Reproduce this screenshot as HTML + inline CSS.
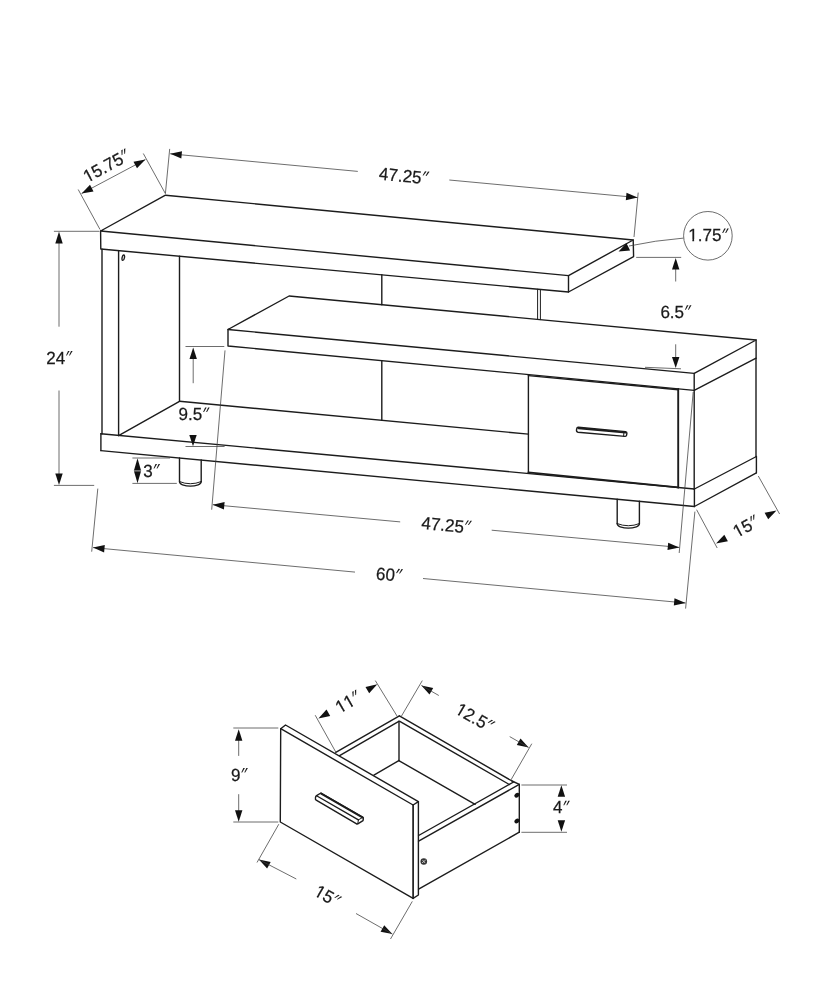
<!DOCTYPE html>
<html><head><meta charset="utf-8"><title>TV stand dimensions</title>
<style>
html,body{margin:0;padding:0;background:#fff}
svg{display:block}
.m{stroke:#1c1c1c;stroke-width:1.4;fill:none;stroke-linecap:round;stroke-linejoin:round}
.m2{stroke:#1c1c1c;stroke-width:1.0;fill:none;stroke-linecap:round;stroke-linejoin:round}
.k{stroke:#1c1c1c;stroke-width:1.9;fill:none;stroke-linecap:round}
.k2{stroke:#1c1c1c;stroke-width:1.7;fill:none;stroke-linecap:round}
.t{stroke:#3c3c3c;stroke-width:0.75;fill:none}
.t2{stroke:#1c1c1c;stroke-width:0.7;fill:none}
.a{fill:#111;stroke:none}
.w{fill:#fff;stroke:none}
.s{fill:#111;stroke:none}
.q{fill:#1a1a1a;stroke:none}
svg{will-change:transform}
text{font-kerning:none;stroke:#1a1a1a;stroke-width:0.25;text-rendering:geometricPrecision;font-family:"Liberation Sans",sans-serif;font-size:17.6px;fill:#1a1a1a}
</style></head>
<body>
<svg width="824" height="1000" viewBox="0 0 824 1000">
<defs><clipPath id="c15_75"><path clip-rule="evenodd" d="M-4 -22 H50.0 V8 H-4 Z M0.52 -2.2 H4.29 V1.5 H0.52 Z M6.12 -2.2 H9.79 V1.5 H6.12 Z"/></clipPath><clipPath id="c1_75"><path clip-rule="evenodd" d="M-4 -22 H40.3 V8 H-4 Z M0.52 -2.2 H4.29 V1.5 H0.52 Z M6.12 -2.2 H9.79 V1.5 H6.12 Z"/></clipPath><clipPath id="c15"><path clip-rule="evenodd" d="M-4 -22 H25.6 V8 H-4 Z M0.52 -2.2 H4.29 V1.5 H0.52 Z M6.12 -2.2 H9.79 V1.5 H6.12 Z"/></clipPath><clipPath id="c11"><path clip-rule="evenodd" d="M-4 -22 H25.6 V8 H-4 Z M0.52 -2.2 H4.29 V1.5 H0.52 Z M6.12 -2.2 H9.79 V1.5 H6.12 Z M10.30 -2.2 H14.07 V1.5 H10.30 Z M15.91 -2.2 H19.58 V1.5 H15.91 Z"/></clipPath><clipPath id="c12_5"><path clip-rule="evenodd" d="M-4 -22 H40.3 V8 H-4 Z M0.52 -2.2 H4.29 V1.5 H0.52 Z M6.12 -2.2 H9.79 V1.5 H6.12 Z"/></clipPath></defs>
<rect width="824" height="1000" fill="#fff"/>
<path class="m" d="M100.6 231.0 L165.5 195.2 L633.2 240.0 L568.5 275.6 Z"/>
<path class="m" d="M100.6 231.0 L100.8 249.0 L568.5 292.0 L633.6 256.6 L633.2 240.0"/>
<line class="m" x1="568.5" y1="275.6" x2="568.5" y2="292.0"/>
<line class="m" x1="102.0" y1="249.0" x2="102.0" y2="434.0"/>
<line class="m" x1="118.6" y1="250.6" x2="118.6" y2="435.6"/>
<line class="m" x1="179.5" y1="256.2" x2="179.5" y2="401.3"/>
<ellipse class="m" cx="123.3" cy="257.7" rx="1.15" ry="2.7" transform="rotate(12 123.3 257.6)"/>
<line class="m" x1="100.9" y1="433.7" x2="694.4" y2="489.0"/>
<line class="m" x1="100.9" y1="450.6" x2="694.4" y2="506.5"/>
<line class="m" x1="100.9" y1="433.7" x2="100.9" y2="450.6"/>
<line class="m" x1="694.4" y1="489.0" x2="694.4" y2="506.5"/>
<line class="m" x1="694.4" y1="489.0" x2="756.4" y2="456.5"/>
<line class="m" x1="694.4" y1="506.5" x2="756.4" y2="472.8"/>
<line class="m" x1="756.4" y1="456.5" x2="756.4" y2="472.8"/>
<line class="m" x1="118.6" y1="435.6" x2="179.5" y2="401.3"/>
<line class="m" x1="179.5" y1="401.3" x2="528.4" y2="434.1"/>
<path class="m" d="M228.0 329.5 L289.1 296.0 L756.1 340.0 L694.2 373.4 Z"/>
<path class="m" d="M228.0 329.5 L228.0 346.0 L694.2 390.4 L756.1 358.2 L756.1 340.0"/>
<line class="m" x1="694.2" y1="373.4" x2="694.2" y2="390.4"/>
<line class="m" x1="694.2" y1="390.4" x2="694.2" y2="489.3"/>
<line class="m" x1="756.0" y1="358.2" x2="756.0" y2="456.5"/>
<line class="m" x1="381.8" y1="274.8" x2="381.8" y2="304.7"/>
<line class="m2" x1="537.6" y1="289.2" x2="537.6" y2="319.4"/>
<line class="m2" x1="540.4" y1="289.4" x2="540.4" y2="319.7"/>
<line class="m" x1="381.8" y1="360.6" x2="381.8" y2="420.3"/>
<line class="m" x1="528.4" y1="374.6" x2="528.4" y2="472.6"/>
<line class="k" x1="678.2" y1="388.9" x2="678.2" y2="487.6"/>
<line class="m" x1="528.4" y1="375.6" x2="678.2" y2="389.8"/>
<line class="k" x1="528.4" y1="472.4" x2="678.2" y2="487.4"/>
<path class="m" fill="#fff" d="M578.4 427.3 L625.6 431.6 Q627.0 431.8 626.9 433.2 L626.6 435.2 Q626.4 436.5 625.0 436.4 L578.0 432.2 Q576.3 432.0 576.5 430.2 L576.7 428.8 Q576.9 427.2 578.4 427.3 Z"/>
<line class="k" x1="578.4" y1="428.2" x2="625.6" y2="432.6"/>
<line class="m2" x1="623.9" y1="432.6" x2="623.6" y2="436.2"/>
<line class="m" x1="179.5" y1="458.0" x2="179.5" y2="481.6"/>
<line class="m" x1="201.2" y1="460.0" x2="201.2" y2="481.6"/>
<path class="m2" d="M179.5 481.6 Q190.3 486.0 201.2 481.6"/>
<path class="m" d="M179.5 481.6 Q179.5 483.8 182.5 484.8 Q190.3 487.4 198.2 484.8 Q201.2 483.8 201.2 481.6"/>
<line class="m" x1="617.2" y1="499.2" x2="617.2" y2="523.6"/>
<line class="m" x1="639.4" y1="501.3" x2="639.4" y2="523.6"/>
<path class="m2" d="M617.2 523.6 Q628.3 528.0 639.4 523.6"/>
<path class="m" d="M617.2 523.6 Q617.2 525.8 620.2 526.8 Q628.3 529.4 636.4 526.8 Q639.4 525.8 639.4 523.6"/>
<line class="t" x1="78.2" y1="189.5" x2="100.0" y2="229.5"/>
<line class="t" x1="143.3" y1="153.5" x2="165.4" y2="193.6"/>
<line class="t" x1="81.6" y1="193.5" x2="145.4" y2="159.6"/>
<polygon class="a" points="81.6,193.5 90.0,184.8 93.5,191.4"/>
<polygon class="a" points="145.4,159.6 137.0,168.3 133.5,161.7"/>
<g transform="translate(106.3 165.6) rotate(-28)"><text clip-path="url(#c15_75)" transform="translate(-25.0 6.3) scale(0.968 1)">15.75</text><path class="q" d="M20.4 -6.4 L22.0 -6.4 L19.3 -1.9 L18.4 -1.9 Z"/><path class="q" d="M23.4 -6.4 L25.0 -6.4 L22.3 -1.9 L21.4 -1.9 Z"/></g>
<line class="t" x1="169.7" y1="148.9" x2="165.4" y2="193.6"/>
<line class="t" x1="638.2" y1="192.6" x2="634.0" y2="237.0"/>
<line class="t" x1="170.2" y1="153.8" x2="357.8" y2="171.4"/>
<polygon class="a" points="170.2,153.8 182.0,151.2 181.3,158.6"/>
<line class="t" x1="449.3" y1="180.0" x2="637.6" y2="197.6"/>
<polygon class="a" points="637.6,197.6 625.8,200.2 626.5,192.8"/>
<g transform="translate(378.6 179.6) rotate(5.4)"><text transform="translate(0.0 0.0) scale(0.968 1)">47.25</text><path class="q" d="M45.4 -12.7 L47.0 -12.7 L44.3 -8.2 L43.4 -8.2 Z"/><path class="q" d="M48.4 -12.7 L50.0 -12.7 L47.3 -8.2 L46.4 -8.2 Z"/></g>
<line class="t" x1="53.9" y1="231.3" x2="99.5" y2="231.3"/>
<line class="t" x1="53.9" y1="485.4" x2="94.2" y2="485.4"/>
<line class="t" x1="59.0" y1="236.0" x2="59.0" y2="326.7"/>
<polygon class="a" points="59.0,231.4 62.7,243.4 55.3,243.4"/>
<line class="t" x1="59.0" y1="390.5" x2="59.0" y2="480.0"/>
<polygon class="a" points="59.0,485.0 55.3,473.5 62.7,473.5"/>
<g transform="translate(46.2 363.8) rotate(0)"><text transform="translate(0.0 0.0) scale(0.968 1)">24</text><path class="q" d="M21.8 -12.7 L23.4 -12.7 L20.7 -8.2 L19.8 -8.2 Z"/><path class="q" d="M24.8 -12.7 L26.4 -12.7 L23.7 -8.2 L22.8 -8.2 Z"/></g>
<line class="t" x1="185.5" y1="346.5" x2="224.3" y2="346.5"/>
<line class="t" x1="185.5" y1="446.5" x2="224.6" y2="446.5"/>
<line class="t" x1="193.2" y1="352.0" x2="193.2" y2="383.2"/>
<polygon class="a" points="193.2,347.4 196.9,358.9 189.5,358.9"/>
<polygon class="a" points="193.0,446.3 189.3,435.1 196.7,435.1"/>
<g transform="translate(178.6 420.3) rotate(0)"><text transform="translate(0.0 0.0) scale(0.968 1)">9.5</text><path class="q" d="M26.5 -12.7 L28.1 -12.7 L25.4 -8.2 L24.5 -8.2 Z"/><path class="q" d="M29.5 -12.7 L31.1 -12.7 L28.4 -8.2 L27.5 -8.2 Z"/></g>
<line class="t" x1="132.4" y1="458.0" x2="170.0" y2="458.0"/>
<line class="t" x1="132.4" y1="483.4" x2="176.8" y2="483.4"/>
<polygon class="a" points="137.5,458.3 141.2,470.9 133.8,470.9"/>
<polygon class="a" points="137.5,483.2 133.8,470.6 141.2,470.6"/>
<line x1="133" y1="470.9" x2="142" y2="470.9" stroke="#fff" stroke-width="0.7"/>
<g transform="translate(143.2 476.6) rotate(0)"><text transform="translate(0.0 0.0) scale(0.968 1)">3</text><path class="q" d="M12.3 -12.7 L13.9 -12.7 L11.2 -8.2 L10.3 -8.2 Z"/><path class="q" d="M15.3 -12.7 L16.9 -12.7 L14.2 -8.2 L13.3 -8.2 Z"/></g>
<line class="t" x1="636.2" y1="257.4" x2="681.2" y2="257.4"/>
<line class="t" x1="675.7" y1="262.0" x2="675.7" y2="281.5"/>
<polygon class="a" points="675.7,257.9 679.4,269.4 672.0,269.4"/>
<line class="t" x1="675.7" y1="344.3" x2="675.7" y2="362.0"/>
<polygon class="a" points="675.7,367.9 672.0,357.1 679.4,357.1"/>
<line class="t" x1="645.0" y1="367.3" x2="681.0" y2="368.8"/>
<g transform="translate(660.4 317.9) rotate(0)"><text transform="translate(0.0 0.0) scale(0.968 1)">6.5</text><path class="q" d="M26.5 -12.7 L28.1 -12.7 L25.4 -8.2 L24.5 -8.2 Z"/><path class="q" d="M29.5 -12.7 L31.1 -12.7 L28.4 -8.2 L27.5 -8.2 Z"/></g>
<circle class="t" cx="707.9" cy="235.8" r="24.3"/>
<g transform="translate(688.2 241.2) rotate(0)"><text clip-path="url(#c1_75)" transform="translate(0.0 0.0) scale(0.968 1)">1.75</text><path class="q" d="M36.0 -12.7 L37.6 -12.7 L34.9 -8.2 L34.0 -8.2 Z"/><path class="q" d="M39.0 -12.7 L40.6 -12.7 L37.9 -8.2 L37.0 -8.2 Z"/></g>
<path class="t" d="M683.5 238.1 Q655 240.4 629.0 246.0"/>
<polygon class="a" points="618.6,251.5 626.4,242.9 630.1,250.4"/>
<line class="t" x1="225.0" y1="350.4" x2="211.7" y2="509.7"/>
<line class="t" x1="693.2" y1="392.0" x2="679.2" y2="553.0"/>
<line class="t" x1="212.8" y1="504.7" x2="400.2" y2="521.9"/>
<polygon class="a" points="212.8,504.7 224.6,502.1 223.9,509.4"/>
<line class="t" x1="491.7" y1="530.2" x2="679.3" y2="547.4"/>
<polygon class="a" points="679.3,547.4 667.5,550.0 668.2,542.7"/>
<g transform="translate(421.0 528.8) rotate(5.4)"><text transform="translate(0.0 0.0) scale(0.968 1)">47.25</text><path class="q" d="M45.4 -12.7 L47.0 -12.7 L44.3 -8.2 L43.4 -8.2 Z"/><path class="q" d="M48.4 -12.7 L50.0 -12.7 L47.3 -8.2 L46.4 -8.2 Z"/></g>
<line class="t" x1="97.8" y1="488.6" x2="91.7" y2="551.7"/>
<line class="t" x1="694.9" y1="511.6" x2="685.6" y2="608.6"/>
<line class="t" x1="93.0" y1="547.6" x2="355.0" y2="572.1"/>
<polygon class="a" points="93.0,547.6 104.8,545.0 104.1,552.4"/>
<line class="t" x1="423.0" y1="578.5" x2="685.6" y2="603.0"/>
<polygon class="a" points="685.6,603.0 673.8,605.6 674.5,598.2"/>
<g transform="translate(375.6 579.4) rotate(5.4)"><text transform="translate(0.0 0.0) scale(0.968 1)">60</text><path class="q" d="M21.8 -12.7 L23.4 -12.7 L20.7 -8.2 L19.8 -8.2 Z"/><path class="q" d="M24.8 -12.7 L26.4 -12.7 L23.7 -8.2 L22.8 -8.2 Z"/></g>
<line class="t" x1="696.6" y1="509.7" x2="717.2" y2="548.0"/>
<line class="t" x1="758.3" y1="476.0" x2="779.6" y2="514.0"/>
<polygon class="a" points="716.0,543.4 724.3,534.7 727.9,541.2"/>
<polygon class="a" points="776.5,510.5 768.2,519.2 764.6,512.7"/>
<g transform="translate(745.8 526.2) rotate(-28)"><text clip-path="url(#c15)" transform="translate(-13.2 6.3) scale(0.968 1)">15</text><path class="q" d="M8.6 -6.4 L10.2 -6.4 L7.5 -1.9 L6.6 -1.9 Z"/><path class="q" d="M11.6 -6.4 L13.2 -6.4 L10.5 -1.9 L9.6 -1.9 Z"/></g>
<path class="m" d="M280.7 728.7 L285.5 725.0 L418.4 801.6 L413.1 805.0 Z"/>
<path class="m" d="M280.7 728.7 L280.3 822.0 L413.1 898.3 L418.4 895.0 L418.4 801.6"/>
<line class="k2" x1="413.1" y1="805.0" x2="413.1" y2="898.3"/>
<path class="m" fill="#fff" d="M320.9 793.0 L362.6 817.0 Q363.6 817.8 363.3 819.0 L363.0 820.6 L357.8 823.9 Q357.0 824.2 356.2 823.6 L316.2 800.2 Q315.2 799.5 315.4 798.4 L315.6 797.0 Q315.8 796.2 316.6 795.7 Z"/>
<line class="k" x1="321.2" y1="793.6" x2="362.8" y2="817.6"/>
<line class="m" x1="317.0" y1="796.0" x2="358.4" y2="819.9"/>
<path class="m2" d="M358.4 819.9 L357.8 823.6"/>
<path class="m2" d="M358.4 819.9 L362.0 817.8"/>
<line class="m" x1="335.8" y1="752.3" x2="399.4" y2="715.9"/>
<line class="m" x1="339.6" y1="755.6" x2="398.8" y2="721.3"/>
<line class="m" x1="399.4" y1="715.9" x2="512.0" y2="781.0"/>
<line class="m" x1="399.8" y1="721.3" x2="509.3" y2="784.5"/>
<line class="m" x1="512.0" y1="781.0" x2="519.3" y2="784.4"/>
<line class="m" x1="399.0" y1="721.3" x2="399.0" y2="760.6"/>
<line class="m" x1="398.8" y1="760.6" x2="373.9" y2="775.2"/>
<line class="m" x1="398.8" y1="760.6" x2="475.1" y2="804.3"/>
<line class="m" x1="519.3" y1="784.4" x2="519.3" y2="832.2"/>
<line class="m" x1="519.3" y1="784.4" x2="418.6" y2="841.2"/>
<line class="m" x1="513.6" y1="782.0" x2="418.6" y2="835.5"/>
<line class="m" x1="519.3" y1="832.2" x2="418.6" y2="889.2"/>
<ellipse class="s" cx="516.9" cy="795.2" rx="2.8" ry="2.2" transform="rotate(-35 516.9 795.2)"/>
<ellipse class="s" cx="516.9" cy="821.0" rx="2.8" ry="2.2" transform="rotate(-35 516.9 821.0)"/>
<circle cx="423.8" cy="861.5" r="3.3" fill="#333"/>
<path d="M421.9 863.0 L425.7 860.0 M422.4 859.9 L425.2 863.1" stroke="#ddd" stroke-width="0.8" fill="none"/>
<line class="t" x1="233.3" y1="728.0" x2="278.3" y2="728.0"/>
<line class="t" x1="233.3" y1="822.0" x2="278.3" y2="822.0"/>
<line class="t" x1="238.7" y1="734.0" x2="238.7" y2="755.9"/>
<polygon class="a" points="238.7,729.2 242.4,740.7 235.0,740.7"/>
<line class="t" x1="238.7" y1="794.2" x2="238.7" y2="816.0"/>
<polygon class="a" points="238.7,821.8 235.0,810.3 242.4,810.3"/>
<g transform="translate(231.0 780.7) rotate(0)"><text transform="translate(0.0 0.0) scale(0.968 1)">9</text><path class="q" d="M12.3 -12.7 L13.9 -12.7 L11.2 -8.2 L10.3 -8.2 Z"/><path class="q" d="M15.3 -12.7 L16.9 -12.7 L14.2 -8.2 L13.3 -8.2 Z"/></g>
<line class="t" x1="315.2" y1="715.2" x2="335.7" y2="751.9"/>
<line class="t" x1="375.3" y1="680.6" x2="397.2" y2="716.3"/>
<polygon class="a" points="318.4,718.6 326.5,709.6 330.2,716.0"/>
<polygon class="a" points="377.3,684.3 369.2,693.3 365.5,686.9"/>
<g transform="translate(348.0 701.6) rotate(-30)"><text clip-path="url(#c11)" transform="translate(-13.2 6.3) scale(0.968 1)">11</text><path class="q" d="M8.6 -6.4 L10.2 -6.4 L7.5 -1.9 L6.6 -1.9 Z"/><path class="q" d="M11.6 -6.4 L13.2 -6.4 L10.5 -1.9 L9.6 -1.9 Z"/></g>
<line class="t" x1="401.4" y1="716.2" x2="422.3" y2="680.6"/>
<line class="t" x1="531.8" y1="743.7" x2="510.4" y2="780.9"/>
<polygon class="a" points="421.4,685.5 433.2,688.0 429.5,694.5"/>
<polygon class="a" points="528.6,747.4 516.8,744.9 520.5,738.4"/>
<line class="t" x1="421.4" y1="685.5" x2="438.8" y2="695.5"/>
<line class="t" x1="509.7" y1="736.6" x2="528.6" y2="747.4"/>
<g transform="translate(474.9 717.4) rotate(30)"><text clip-path="url(#c12_5)" transform="translate(-20.3 6.3) scale(0.968 1)">12.5</text><path class="q" d="M15.7 -6.4 L17.3 -6.4 L14.6 -1.9 L13.7 -1.9 Z"/><path class="q" d="M18.7 -6.4 L20.3 -6.4 L17.6 -1.9 L16.7 -1.9 Z"/></g>
<line class="t" x1="521.4" y1="785.0" x2="567.0" y2="785.0"/>
<line class="t" x1="521.4" y1="832.3" x2="567.0" y2="832.3"/>
<polygon class="a" points="561.4,785.2 565.1,796.7 557.7,796.7"/>
<polygon class="a" points="561.4,831.8 557.7,820.3 565.1,820.3"/>
<g transform="translate(553.0 813.4) rotate(0)"><text transform="translate(0.0 0.0) scale(0.968 1)">4</text><path class="q" d="M12.3 -12.7 L13.9 -12.7 L11.2 -8.2 L10.3 -8.2 Z"/><path class="q" d="M15.3 -12.7 L16.9 -12.7 L14.2 -8.2 L13.3 -8.2 Z"/></g>
<line class="t" x1="278.8" y1="824.2" x2="257.0" y2="862.5"/>
<line class="t" x1="412.3" y1="901.4" x2="390.5" y2="939.0"/>
<polygon class="a" points="258.9,859.6 270.7,862.0 267.1,868.4"/>
<polygon class="a" points="392.4,934.1 380.6,931.7 384.2,925.3"/>
<line class="t" x1="258.9" y1="859.6" x2="296.3" y2="879.0"/>
<line class="t" x1="356.0" y1="913.5" x2="392.4" y2="934.1"/>
<g transform="translate(327.6 896.0) rotate(30)"><text clip-path="url(#c15)" transform="translate(-13.2 6.3) scale(0.968 1)">15</text><path class="q" d="M8.6 -6.4 L10.2 -6.4 L7.5 -1.9 L6.6 -1.9 Z"/><path class="q" d="M11.6 -6.4 L13.2 -6.4 L10.5 -1.9 L9.6 -1.9 Z"/></g>
</svg>
</body></html>
